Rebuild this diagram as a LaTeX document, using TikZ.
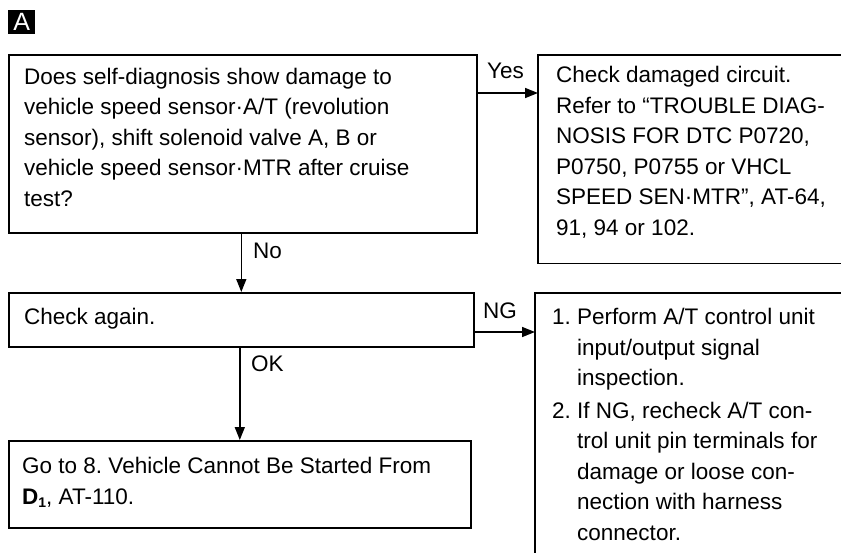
\documentclass[tikz,border=0pt]{standalone}
\usepackage{fontspec}
\setmainfont{Liberation Sans}
\usetikzlibrary{arrows.meta}
\frenchspacing
\newcommand\bodyfont{\fontsize{22.5}{30.5}\selectfont}
\begin{document}
\begin{tikzpicture}[x=1pt,y=-1pt,
  frame/.style={draw, line width=1.6pt, rectangle, inner sep=0pt, anchor=north west},
  openframe/.style={rectangle, inner sep=0pt, anchor=north west},
  body/.style={anchor=base west, align=left, inner sep=0pt, font=\bodyfont},
  lbl/.style={anchor=base west, inner sep=0pt, font=\bodyfont},
  edge/.style={line width=1.5pt, -{Triangle[length=13pt,width=10pt]}},
  rule/.style={line width=1.6pt},
]
\useasboundingbox (0,0) rectangle (841,557);

\node[fill=black, text=white, font=\fontsize{25}{25}\selectfont, inner sep=0pt,
      minimum width=27pt, minimum height=24pt, anchor=north west] (tag) at (8,10) {A};

% anchor "base" of a multi-line node is the baseline of its last line
\node[frame, minimum width=468pt, minimum height=178pt] (q) at (8,54) {};
\node[body] (qt) at (24,206) {Does self-diagnosis show damage to\\
vehicle speed sensor·A/T (revolution\\
sensor), shift solenoid valve A, B or\\
vehicle speed sensor·MTR after cruise\\
test?};

\node[openframe, minimum width=303pt, minimum height=208pt] (r1) at (538,55) {};
\draw[rule] (r1.north east) -- (r1.north west) -- (r1.south west) -- (r1.south east);
\node[body] (r1t) at (556,235) {Check damaged circuit.\\
Refer to “TROUBLE DIAG-\\
NOSIS FOR DTC P0720,\\
P0750, P0755 or VHCL\\
SPEED SEN·MTR”, AT-64,\\
91, 94 or 102.};

\node[frame, minimum width=465pt, minimum height=54pt] (c) at (8,292) {};
\node[body] (ct) at (24,324) {Check again.};

\node[openframe, minimum width=306pt, minimum height=260pt] (r2) at (535,293) {};
\draw[rule] (r2.north east) -- (r2.north west) -- (r2.south west);
\node[body] (r2t) at (552,540) {1. Perform A/T control unit\\
\hspace*{25pt}input/output signal\\
\hspace*{25pt}inspection.\\[2pt]
2. If NG, recheck A/T con-\\
\hspace*{25pt}trol unit pin terminals for\\
\hspace*{25pt}damage or loose con-\\
\hspace*{25pt}nection with harness\\
\hspace*{25pt}connector.};

\node[frame, minimum width=462pt, minimum height=87pt] (g) at (8,440) {};
\node[body] (gt) at (22,504) {Go to 8. Vehicle Cannot Be Started From\\
\textbf{D}\raisebox{-3pt}{\fontsize{14}{14}\selectfont\textbf{1}}, AT-110.};

\path (q.north east) ++(0,39) coordinate (ya);
\draw[edge] (ya) -- (ya -| r1.west);
\node[lbl] (yes) at (487,78) {Yes};

\draw[edge] (c.north |- q.south) -- (c.north);
\node[lbl] (no) at (253,258) {No};

\path (c.north east) ++(0,40) coordinate (ng);
\draw[edge] (ng) -- (ng -| r2.west);
\node[lbl] (ngl) at (483,318) {NG};

\draw[edge] (g.north |- c.south) -- (g.north);
\node[lbl] (ok) at (251,371) {OK};
\end{tikzpicture}
\end{document}
